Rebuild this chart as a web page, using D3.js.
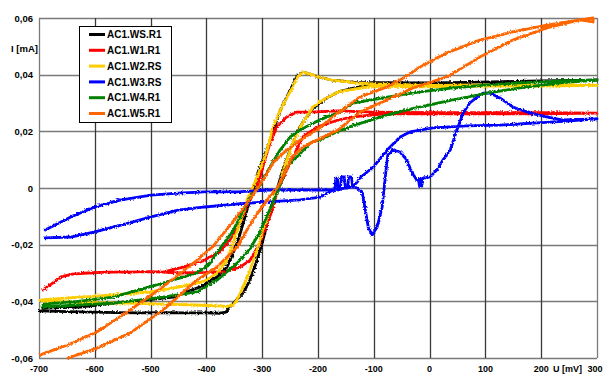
<!DOCTYPE html>
<html>
<head>
<meta charset="utf-8">
<script src="https://cdn.jsdelivr.net/npm/d3@7"></script>
<style>
  html, body { margin: 0; padding: 0; background: #fff; }
  svg { display: block; }
  text { font-family: "Liberation Sans", Arial, sans-serif; font-weight: bold; fill: #000; }
</style>
</head>
<body>
<svg id="chart" width="604" height="376"></svg>
<script>
// Axis ticks
const xTicks = [-700, -600, -500, -400, -300, -200, -100, 0, 100, 200, 300];
const yTicks = [-0.06, -0.04, -0.02, 0, 0.02, 0.04, 0.06];

// Series names and colours (legend order = drawing order)
const seriesNames = ["AC1.WS.R1", "AC1.W1.R1", "AC1.W2.RS", "AC1.W3.RS", "AC1.W4.R1", "AC1.W5.R1"];
const seriesColors = ["#000000", "#ff0000", "#ffcc00", "#0000ff", "#008000", "#ff6600"];

// Each series: [U in mV, I in mA], anodic sweep followed by the return sweep
const wsR1 = [
  [-698,-0.0434],[-650,-0.0436],[-600,-0.0438],[-560,-0.0440],[-520,-0.0441],[-480,-0.0440],[-440,-0.0441],
  [-400,-0.0441],[-375,-0.0442],[-365,-0.0438],[-358,-0.0420],[-334,-0.0371],[-322,-0.0325],[-309,-0.0254],
  [-300,-0.0194],[-291,-0.0124],[-282,-0.0067],[-272,0.0004],[-263,0.0064],[-250,0.0134],[-236,0.0205],
  [-220,0.0251],[-209,0.0282],[-196,0.0300],[-184,0.0318],[-164,0.0339],[-134,0.0353],[-101,0.0368],
  [-17,0.0367],[90,0.0374],[198,0.0378],[300,0.0381],
  [200,0.0377],[100,0.0374],[0,0.0371],[-101,0.0372],[-134,0.0373],[-173,0.0381],[-196,0.0390],
  [-214,0.0402],[-227,0.0409],[-236,0.0398],[-241,0.0381],[-256,0.0321],[-265,0.0286],[-274,0.0240],
  [-281,0.0194],[-290,0.0145],[-299,0.0099],[-308,0.0053],[-313,0.0004],[-322,-0.0042],[-334,-0.0124],
  [-343,-0.0184],[-352,-0.0229],[-363,-0.0279],[-381,-0.0314],[-399,-0.0335],[-411,-0.0349],[-460,-0.0385],
  [-506,-0.0395],[-567,-0.0406],[-627,-0.0420],[-693,-0.0424]
];

const w1R1 = [
  [-693,-0.0360],[-675,-0.0335],[-661,-0.0314],[-640,-0.0304],[-612,-0.0300],[-580,-0.0297],[-540,-0.0297],
  [-500,-0.0295],[-478,-0.0297],[-447,-0.0300],[-400,-0.0298],[-367,-0.0295],[-340,-0.0279],[-322,-0.0256],
  [-304,-0.0194],[-291,-0.0124],[-282,-0.0078],[-274,-0.0018],[-268,0.0011],[-256,0.0064],[-241,0.0124],
  [-227,0.0180],[-202,0.0215],[-164,0.0240],[-137,0.0251],[-76,0.0263],[0,0.0262],[100,0.0262],[200,0.0262],
  [300,0.0264],
  [200,0.0266],[100,0.0266],[0,0.0266],[-100,0.0268],[-164,0.0272],[-214,0.0268],[-238,0.0268],[-256,0.0251],
  [-274,0.0215],[-286,0.0159],[-299,0.0074],[-309,0.0004],[-325,-0.0053],[-340,-0.0124],[-358,-0.0184],
  [-376,-0.0226],[-411,-0.0261],[-447,-0.0282],[-478,-0.0297]
];

const w2RS = [
  [-698,-0.0398],[-650,-0.0402],[-600,-0.0405],[-540,-0.0406],[-480,-0.0410],[-420,-0.0413],[-380,-0.0416],
  [-363,-0.0418],[-352,-0.0413],[-345,-0.0395],[-334,-0.0349],[-322,-0.0289],[-309,-0.0219],[-299,-0.0148],
  [-286,-0.0078],[-274,-0.0007],[-268,0.0018],[-256,0.0099],[-245,0.0159],[-232,0.0215],[-220,0.0251],
  [-209,0.0286],[-191,0.0311],[-164,0.0339],[-101,0.0360],[-17,0.0357],[90,0.0360],[198,0.0360],[300,0.0362],
  [200,0.0362],[100,0.0364],[0,0.0362],[-100,0.0367],[-134,0.0371],[-173,0.0381],[-196,0.0390],[-214,0.0402],
  [-227,0.0409],[-236,0.0394],[-247,0.0350],[-256,0.0318],[-265,0.0286],[-281,0.0215],[-291,0.0134],
  [-304,0.0064],[-317,0.0004],[-327,-0.0042],[-340,-0.0124],[-352,-0.0194],[-363,-0.0254],[-381,-0.0300],
  [-399,-0.0325],[-411,-0.0332],[-447,-0.0349],[-501,-0.0367],[-591,-0.0381],[-698,-0.0395]
];

const w3RS = [
  [-689,-0.0176],[-643,-0.0173],[-600,-0.0155],[-553,-0.0131],[-499,-0.0102],[-451,-0.0078],[-403,-0.0067],
  [-343,-0.0056],[-291,-0.0049],[-232,-0.0042],[-196,-0.0032],[-173,-0.0007],[-170,-0.0010],[-168,0.0035],
  [-165,0.0035],[-164,-0.0007],[-160,-0.0005],[-158,0.0039],[-153,0.0039],[-151,0.0000],[-147,0.0000],
  [-145,0.0039],[-140,0.0039],[-138,0.0005],[-130,0.0020],[-125,0.0035],[-101,0.0074],[-76,0.0134],
  [-53,0.0180],[-35,0.0198],[6,0.0212],[67,0.0219],[126,0.0222],[185,0.0229],[246,0.0236],[300,0.0244],
  [239,0.0240],[210,0.0251],[180,0.0265],[149,0.0286],[126,0.0318],[108,0.0335],[96,0.0335],[85,0.0321],
  [72,0.0300],[60,0.0265],[49,0.0205],[37,0.0134],[24,0.0099],[13,0.0064],[1,0.0039],[-12,0.0035],
  [-14,0.0007],[-16,0.0033],[-18,0.0005],[-20,0.0030],[-23,0.0028],[-32,0.0056],[-41,0.0099],[-53,0.0127],
  [-66,0.0134],[-75,0.0116],[-80,0.0028],[-85,-0.0067],[-94,-0.0138],[-103,-0.0166],[-110,-0.0138],
  [-116,-0.0067],[-121,-0.0014],[-130,0.0000],[-137,0.0004],[-173,-0.0007],[-196,-0.0007],[-232,-0.0007],
  [-291,-0.0007],[-343,-0.0014],[-403,-0.0014],[-451,-0.0018],[-499,-0.0025],[-553,-0.0042],[-600,-0.0067],
  [-643,-0.0102],[-689,-0.0148]
];

const w4R1 = [
  [-693,-0.0420],[-630,-0.0413],[-567,-0.0406],[-478,-0.0385],[-417,-0.0367],[-381,-0.0325],[-345,-0.0265],
  [-322,-0.0215],[-304,-0.0155],[-286,-0.0075],[-272,-0.0010],[-256,0.0074],[-238,0.0109],[-214,0.0159],
  [-191,0.0175],[-164,0.0200],[-137,0.0220],[-76,0.0258],[-17,0.0286],[42,0.0311],[103,0.0335],[162,0.0353],
  [234,0.0371],[300,0.0381],
  [234,0.0378],[162,0.0371],[103,0.0364],[42,0.0353],[-17,0.0339],[-76,0.0321],[-137,0.0300],[-164,0.0265],
  [-184,0.0251],[-209,0.0229],[-232,0.0205],[-250,0.0180],[-268,0.0134],[-286,0.0074],[-304,0.0010],
  [-320,-0.0030],[-334,-0.0080],[-352,-0.0150],[-376,-0.0215],[-395,-0.0270],[-417,-0.0300],[-478,-0.0336],
  [-567,-0.0385],[-630,-0.0400],[-693,-0.0410]
];

const w5R1 = [
  [-648,-0.0600],[-596,-0.0565],[-537,-0.0512],[-478,-0.0431],[-417,-0.0325],[-381,-0.0279],[-345,-0.0208],
  [-317,-0.0113],[-291,-0.0042],[-272,0.0004],[-268,0.0018],[-247,0.0109],[-227,0.0145],[-202,0.0169],
  [-164,0.0205],[-125,0.0268],[-76,0.0311],[-30,0.0353],[31,0.0392],[90,0.0462],[149,0.0522],[210,0.0565],
  [269,0.0593],[293,0.0586],
  [293,0.0600],[210,0.0575],[149,0.0551],[90,0.0522],[31,0.0477],[-17,0.0427],[-53,0.0381],[-76,0.0357],
  [-125,0.0321],[-161,0.0270],[-202,0.0205],[-232,0.0169],[-256,0.0134],[-281,0.0088],[-295,0.0039],
  [-322,-0.0040],[-345,-0.0100],[-363,-0.0145],[-388,-0.0205],[-417,-0.0255],[-478,-0.0349],[-537,-0.0431],
  [-596,-0.0508],[-650,-0.0555],[-698,-0.0589]
];

const seriesData = [wsR1, w1R1, w2RS, w3RS, w4R1, w5R1];

const svg = d3.select("#chart");
const plot = { left: 39, right: 597, top: 18, bottom: 358 };

const x = d3.scaleLinear().domain([-700, 300]).range([plot.left, plot.right]);
const y = d3.scaleLinear().domain([-0.06, 0.06]).range([plot.bottom, plot.top]);

// Measurement jitter look for the recorded traces
const defs = svg.append("defs");
const rough = defs.append("filter").attr("id", "rough")
  .attr("filterUnits", "userSpaceOnUse")
  .attr("x", 0).attr("y", 0).attr("width", 604).attr("height", 376);
rough.append("feTurbulence").attr("type", "fractalNoise")
  .attr("baseFrequency", "0.6").attr("numOctaves", 2).attr("seed", 3).attr("result", "noise");
rough.append("feDisplacementMap").attr("in", "SourceGraphic").attr("in2", "noise")
  .attr("scale", 3.2).attr("xChannelSelector", "R").attr("yChannelSelector", "G");

// Grid: horizontal lines
svg.append("g").selectAll("line").data(yTicks).join("line")
  .attr("x1", plot.left).attr("x2", plot.right)
  .attr("y1", d => Math.round(y(d)) + 0.5).attr("y2", d => Math.round(y(d)) + 0.5)
  .attr("stroke", "#7a7a7a").attr("stroke-width", 1.3);

// Grid: vertical lines
svg.append("g").selectAll("line").data(xTicks).join("line")
  .attr("x1", d => Math.round(x(d)) + 0.5).attr("x2", d => Math.round(x(d)) + 0.5)
  .attr("y1", plot.top).attr("y2", plot.bottom)
  .attr("stroke", d => (d === -700 || d === 300) ? "#7a7a7a" : "#3a3a3a")
  .attr("stroke-width", 1.3);

// Y tick labels
const fmtY = d => d === 0 ? "0" : d3.format(".2f")(d).replace("−", "-").replace(".", ",");
svg.append("g").selectAll("text").data(yTicks).join("text")
  .attr("x", 33).attr("y", d => y(d) + 3.5)
  .attr("text-anchor", "end").attr("font-size", 9.5)
  .text(fmtY);

svg.append("text").attr("x", 11).attr("y", 52).attr("font-size", 9.5).text("I [mA]");

// X tick labels
svg.append("g").selectAll("text").data(xTicks).join("text")
  .attr("x", d => d === 300 ? x(d) - 2 : x(d)).attr("y", 372)
  .attr("text-anchor", "middle").attr("font-size", 9)
  .text(d => String(d));

svg.append("text").attr("x", 553).attr("y", 372).attr("font-size", 9).text("U [mV]");

// Curves
const line = d3.line().x(d => x(d[0])).y(d => y(d[1]));
const curves = svg.append("g").attr("fill", "none")
  .attr("stroke-linejoin", "round").attr("stroke-linecap", "round")
  .attr("filter", "url(#rough)");
seriesData.forEach((data, i) => {
  curves.append("path")
    .attr("d", line(data))
    .attr("stroke", seriesColors[i])
    .attr("stroke-width", 2.8);
});

// Legend
const legend = svg.append("g").attr("transform", "translate(79.5,26.5)");
legend.append("rect").attr("width", 92).attr("height", 96)
  .attr("fill", "#fff").attr("stroke", "#000").attr("stroke-width", 1);
seriesNames.forEach((name, i) => {
  const ly = 8 + i * 15.8;
  legend.append("line").attr("x1", 9.5).attr("x2", 25.5).attr("y1", ly).attr("y2", ly)
    .attr("stroke", seriesColors[i]).attr("stroke-width", 3);
  legend.append("text").attr("x", 27.5).attr("y", ly + 3.6).attr("font-size", 10).text(name);
});
</script>
</body>
</html>
